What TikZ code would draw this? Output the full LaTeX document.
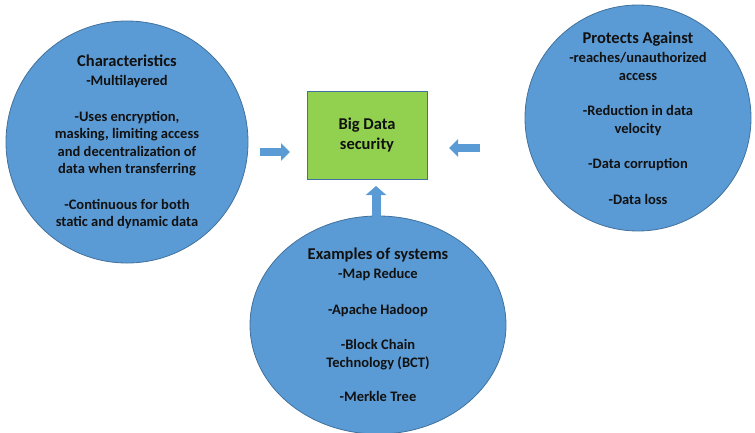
\documentclass[tikz,border=0pt]{standalone}
\usepackage{fontspec}
\setmainfont{Carlito}
\usetikzlibrary{arrows.meta,shapes.geometric}
\definecolor{blu}{HTML}{5B9BD5}
\definecolor{bdr}{HTML}{41719C}
\definecolor{grn}{HTML}{92D050}
\definecolor{ink}{HTML}{111111}
\tikzset{
  bubble/.style={draw=bdr, fill=blu, line width=0.8pt, inner sep=0pt, align=center, text=ink,
    font=\bfseries\fontsize{14.5}{17.5}\selectfont},
  blockarrow/.style={line width=8pt, draw=blu, -{Triangle[length=9pt,width=17pt]}},
}
\newcommand{\ttl}[1]{{\fontsize{16.5}{17.5}\selectfont #1}}
\begin{document}
\begin{tikzpicture}[x=1pt,y=-1pt]
\useasboundingbox (0,0) rectangle (755,432);
\node[bubble, circle, minimum size=242pt] (lc) at (127,142) {\ttl{Characteristics}\\[1.5pt]
-Multilayered\\[18pt]
-Uses encryption,\\
masking, limiting access\\
and decentralization of\\
data when transferring\\[18pt]
-Continuous for both\\
static and dynamic data};
\node[bubble, circle, minimum size=226pt] (rc) at (638,118) {\ttl{Protects Against}\\[2pt]
-reaches/unauthorized\\
access\\[18pt]
-Reduction in data\\
velocity\\[18pt]
-Data corruption\\[18pt]
-Data loss};
\node[bubble, ellipse, minimum width=256pt, minimum height=204pt] (bc) at (378,325) {\ttl{Examples of systems}\\[2pt]
-Map Reduce\\[18pt]
-Apache Hadoop\\[18pt]
-Block Chain\\
Technology (BCT)\\[17pt]
-Merkle Tree};
\node[draw=bdr, fill=grn, line width=0.8pt, minimum width=120pt, minimum height=88pt, align=center, text=ink,
  font=\bfseries\fontsize{16.5}{20}\selectfont] (bd) at (367,135) {Big Data\\security};
\coordinate (la1) at (260,152);
\coordinate (la2) at (290,152);
\coordinate (ra1) at (480,148);
\coordinate (ra2) at (449,148);
\coordinate (ua1) at (376,217);
\coordinate (ua2) at (376,186);
\draw[blockarrow] (la1) -- (la2);
\draw[blockarrow] (ra1) -- (ra2);
\draw[blockarrow, line width=9pt, -{Triangle[length=9pt,width=20pt]}] (ua1) -- (ua2);
\end{tikzpicture}
\end{document}
